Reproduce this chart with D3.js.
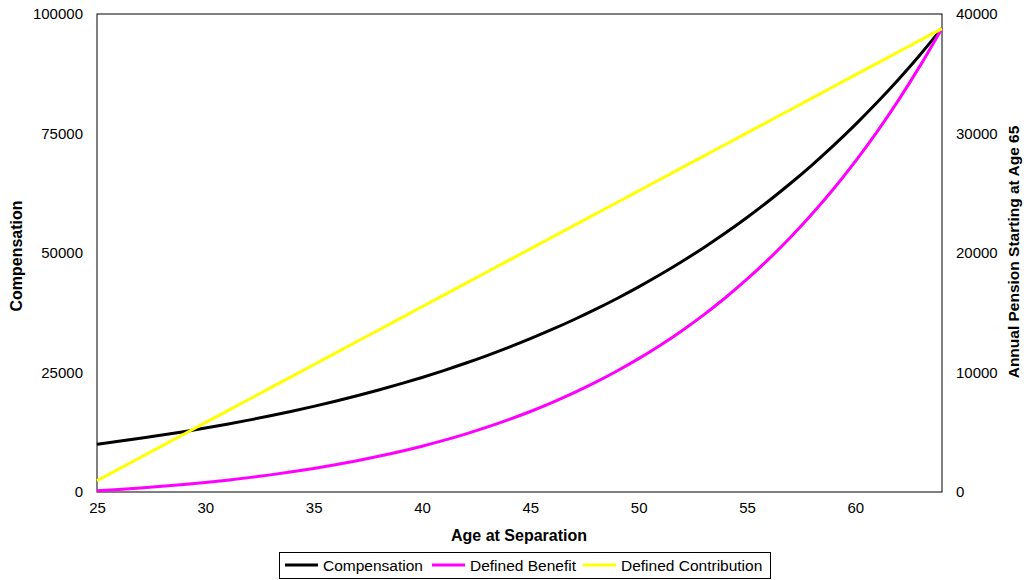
<!DOCTYPE html>
<html><head><meta charset="utf-8">
<script src="https://cdn.jsdelivr.net/npm/d3@7"></script>
<style>body{margin:0;background:#fff;} text{font-family:Arial,"Liberation Sans",sans-serif;}</style>
</head><body>
<svg id="chart" width="1029" height="580"></svg>
<script>
const ages = [25,26,27,28,29,30,31,32,33,34,35,36,37,38,39,40,41,42,43,44,45,46,47,48,49,50,51,52,53,54,55,56,57,58,59,60,61,62,63,64];
const compensation = [10000,10600,11236,11910,12625,13382,14185,15036,15938,16895,17908,18983,20122,21329,22609,23966,25404,26928,28543,30256,32071,33996,36035,38197,40489,42919,45494,48223,51117,54184,57435,60881,64534,68406,72510,76861,81473,86361,91543,97035];
const definedBenefit = [100,212,337,476,631,803,993,1203,1434,1690,1970,2278,2616,2986,3391,3835,4319,4847,5423,6051,6735,7479,8288,9167,10122,11159,12283,13502,14824,16255,17805,19482,21296,23258,25379,27670,30145,32817,35702,38814];
const definedContribution = [950,1920,2890,3860,4830,5800,6770,7740,8710,9680,10650,11620,12590,13560,14530,15500,16470,17440,18410,19380,20350,21320,22290,23260,24230,25200,26170,27140,28110,29080,30050,31020,31990,32960,33930,34900,35870,36840,37810,38780];
const xTicks = [25,30,35,40,45,50,55,60];
const leftTicks = [0,25000,50000,75000,100000];
const rightTicks = [0,10000,20000,30000,40000];
const seriesNames = ["Compensation","Defined Benefit","Defined Contribution"];
const seriesColors = ["#000000","#ff00ff","#ffff00"];

const svg = d3.select("#chart");
const L=97, R=942, T=14, B=492;
const x = d3.scaleLinear().domain([25,64]).range([L,R]);
const yL = d3.scaleLinear().domain([0,100000]).range([B,T]);
const yR = d3.scaleLinear().domain([0,40000]).range([B,T]);

svg.append("rect").attr("x",L).attr("y",T).attr("width",R-L).attr("height",B-T)
  .attr("fill","none").attr("stroke","#000").attr("stroke-width",1);

const ax = svg.append("g").attr("transform",`translate(0,${B})`)
  .call(d3.axisBottom(x).tickValues(xTicks).tickSize(0).tickPadding(10).tickFormat(d3.format("d")));
const ayl = svg.append("g").attr("transform",`translate(${L},0)`)
  .call(d3.axisLeft(yL).tickValues(leftTicks).tickSize(0).tickPadding(14).tickFormat(d3.format("d")));
const ayr = svg.append("g").attr("transform",`translate(${R},0)`)
  .call(d3.axisRight(yR).tickValues(rightTicks).tickSize(0).tickPadding(14).tickFormat(d3.format("d")));
[ax,ayl,ayr].forEach(g=>{g.select(".domain").remove();
  g.selectAll("text").attr("font-size",15).attr("fill","#000").attr("font-family","Arial, 'Liberation Sans', sans-serif");});

const line = (ys, yScale) => d3.line().x((d,i)=>x(ages[i])).y(d=>yScale(d)).curve(d3.curveMonotoneX)(ys);
const data = [[compensation,yL],[definedBenefit,yR],[definedContribution,yR]];
data.forEach(([vals,sc],i)=>{
  svg.append("path").attr("d",line(vals,sc)).attr("fill","none")
    .attr("stroke",seriesColors[i]).attr("stroke-width",3).attr("stroke-linejoin","round");
});

svg.append("text").attr("x",519).attr("y",541).attr("text-anchor","middle")
  .attr("font-size",16).attr("font-weight","bold").text("Age at Separation");
svg.append("text").attr("transform",`translate(22,256) rotate(-90)`).attr("text-anchor","middle")
  .attr("font-size",16).attr("font-weight","bold").text("Compensation");
svg.append("text").attr("transform",`translate(1019,252) rotate(-90)`).attr("text-anchor","middle")
  .attr("font-size",15.5).attr("font-weight","bold").text("Annual Pension Starting at Age 65");

const lg = svg.append("g");
lg.append("rect").attr("x",279.5).attr("y",552.5).attr("width",491).attr("height",26)
  .attr("fill","#fff").attr("stroke","#000").attr("stroke-width",1);
const legendX = [285, 432, 583];
seriesNames.forEach((n,i)=>{
  lg.append("line").attr("x1",legendX[i]).attr("x2",legendX[i]+33).attr("y1",565).attr("y2",565)
    .attr("stroke",seriesColors[i]).attr("stroke-width",3);
  lg.append("text").attr("x",legendX[i]+38).attr("y",571).attr("font-size",15.5).text(n);
});
</script>
</body></html>
